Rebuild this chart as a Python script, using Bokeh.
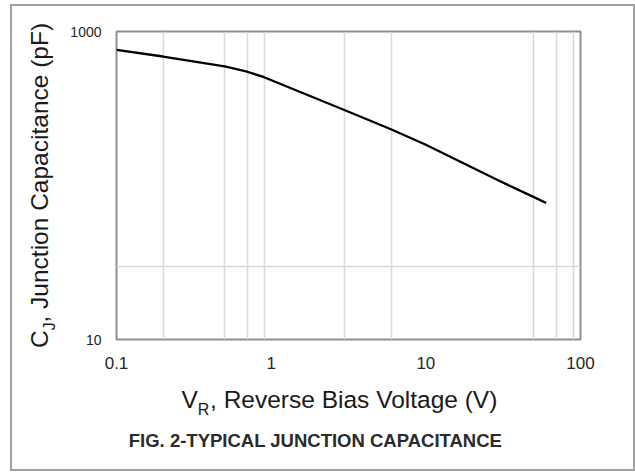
import json
from bokeh.plotting import figure
from bokeh.models import (FixedTicker, CustomJSTickFormatter, LinearAxis, Range1d, LinearScale)
from bokeh.embed import file_html
from bokeh.resources import INLINE

# ---- data ----
voltage = [0.1, 0.2, 0.5, 0.7, 0.9, 3, 6, 10, 30, 50, 60]
capacitance = [760, 688, 593, 548, 505, 308, 231, 184, 107, 84, 77]

x_ticks = [0.1, 1, 10, 100]
y_ticks = [10, 1000]
x_grid = [0.2, 0.5, 0.7, 0.9, 3, 6, 50, 70, 90]
y_grid = [30]

x_title = ["V", "R", ", Reverse Bias Voltage (V)"]
y_title = ["C", "J", ", Junction Capacitance (pF)"]
caption = "FIG. 2-TYPICAL JUNCTION CAPACITANCE"

FONT = "Liberation Sans"

# figure placed at page (12, 6); frame spans page x 116..580, y 31..339.3
p = figure(width=621, height=463, x_axis_type="log", y_axis_type="log",
           x_range=(0.1, 100), y_range=(10, 1000),
           output_backend="svg", toolbar_location=None,
           min_border_left=104, min_border_right=53,
           min_border_top=25, min_border_bottom=130)
p.styles = {"margin-left": "12px", "margin-top": "6px",
            "outline": "2px solid #a0a0a0"}

p.line(voltage, capacitance, line_color="black", line_width=2.3)

def plain(ax):
    ax.axis_line_color = None
    ax.major_tick_line_color = None
    ax.minor_tick_line_color = None
    ax.major_tick_out = 0
    ax.major_tick_in = 0
    ax.minor_tick_out = 0
    ax.minor_tick_in = 0

fmt = CustomJSTickFormatter(code="return tick.toString();")
for ax, ticks, size, standoff in ((p.xaxis, x_ticks, "17px", 17), (p.yaxis, y_ticks, "14px", 15)):
    plain(ax)
    ax.ticker = FixedTicker(ticks=ticks)
    ax.formatter = fmt
    ax.major_label_text_font = FONT
    ax.major_label_text_font_size = size
    ax.major_label_text_color = "#262626"
    ax.major_label_standoff = standoff

p.xgrid.ticker = FixedTicker(ticks=x_grid)
p.ygrid.ticker = FixedTicker(ticks=y_grid)
p.grid.grid_line_color = "#d9d9d9"
p.grid.grid_line_width = 1.5

p.outline_line_color = "#8f8f8f"
p.outline_line_width = 2
p.background_fill_color = "white"
p.border_fill_color = "white"

# pixel-like helper ranges (linear) for placing the titles, in page coordinates
p.extra_x_ranges = {"px": Range1d(116, 580)}
p.extra_y_ranges = {"py": Range1d(339.3, 31)}
p.extra_x_scales = {"px": LinearScale()}
p.extra_y_scales = {"py": LinearScale()}

def text_axis(place, pos_text, size, standoff, style="normal", color="#1a1a1a"):
    pos = [q for q, _ in pos_text]
    mapping = {f"{q:.2f}": t for q, t in pos_text}
    code = "const m = " + json.dumps(mapping) + "; const k = tick.toFixed(2); return (k in m) ? m[k] : '';"
    kw = {"x_range_name": "px"} if place == "below" else {"y_range_name": "py"}
    ax = LinearAxis(ticker=FixedTicker(ticks=pos),
                    formatter=CustomJSTickFormatter(code=code), **kw)
    plain(ax)
    ax.major_label_text_font = FONT
    ax.major_label_text_font_size = size
    ax.major_label_text_font_style = style
    ax.major_label_text_color = color
    ax.major_label_standoff = standoff
    if place == "left":
        ax.major_label_orientation = "vertical"
    p.add_layout(ax, place)

# x title: "V" + subscript "R" + rest
text_axis("below", [(189.2, x_title[0]), (353.2, x_title[2])], "24.5px", 14)
text_axis("below", [(203.1, x_title[1])], "16px", -15)
# caption
text_axis("below", [(315.0, caption)], "18.5px", 9, style="bold", color="#2b2b2b")

# y title: subscript "J" (closer to frame) then "C" + rest
text_axis("left", [(326.15, y_title[1])], "16px", 9)
text_axis("left", [(339.0, y_title[0]), (172.35, y_title[2])], "24.5px", -15)

open("out.html", "w").write(file_html(p, INLINE))
